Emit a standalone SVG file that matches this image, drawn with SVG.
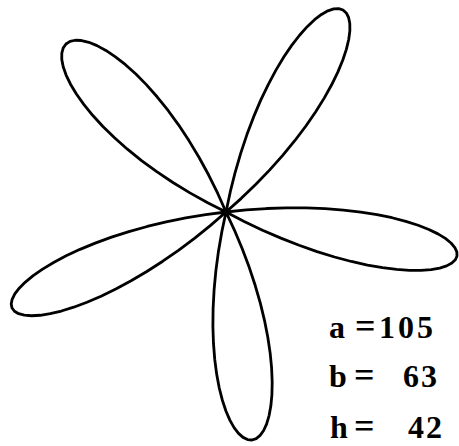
<svg xmlns="http://www.w3.org/2000/svg" xmlns:xlink="http://www.w3.org/1999/xlink" width="459" height="446" viewBox="0 0 459 446">
<style>
.curve{fill:none;stroke:#000;stroke-width:2.8;stroke-linejoin:round;stroke-linecap:round}
.lbl{font-family:"Liberation Serif","Times New Roman",serif;font-weight:bold;font-size:32px;fill:#000}
.eq{font-size:36px}
</style>
<defs>
<path id="petal" vector-effect="non-scaling-stroke" d="M0,0 L8.34,2.55 L16.69,4.79 L25,6.70 L33.18,8.27 L41.18,9.51 L48.91,10.40 L56.31,10.94 L63.30,11.16 L69.84,11.06 L75.86,10.66 L81.31,9.98 L86.13,9.05 L90.28,7.90 L93.74,6.56 L96.46,5.06 L98.42,3.44 L99.60,1.74 L100,0 L99.60,-1.74 L98.42,-3.44 L96.46,-5.06 L93.74,-6.56 L90.28,-7.90 L86.13,-9.05 L81.31,-9.98 L75.86,-10.66 L69.84,-11.06 L63.30,-11.16 L56.31,-10.94 L48.91,-10.40 L41.18,-9.51 L33.18,-8.27 L25,-6.70 L16.69,-4.79 L8.34,-2.55 Z"/>
</defs>
<rect width="459" height="446" fill="#fff"/>
<g id="curve" class="curve">
<use xlink:href="#petal" transform="matrix(-1.6 -1.68 1.955 -1.863 226 212)"/>
<use xlink:href="#petal" transform="matrix(1.17 -2.02 2.163 1.253 226 212)"/>
<use xlink:href="#petal" transform="matrix(2.31 0.44 -0.43 2.259 226 212)"/>
<use xlink:href="#petal" transform="matrix(-2.14 0.96 -0.941 -2.1 226 212)"/>
<use xlink:href="#petal" transform="matrix(0.26 2.28 -2.483 0.283 226 212)"/>
</g>
<g id="labels" class="lbl">
<text y="338"><tspan x="329">a</tspan><tspan class="eq" x="355">=</tspan><tspan x="379" letter-spacing="3">105</tspan></text>
<text y="387"><tspan x="329">b</tspan><tspan class="eq" x="354">=</tspan><tspan x="403" letter-spacing="2">63</tspan></text>
<text y="438"><tspan x="330">h</tspan><tspan class="eq" x="354">=</tspan><tspan x="408" letter-spacing="2">42</tspan></text>
</g>
</svg>
